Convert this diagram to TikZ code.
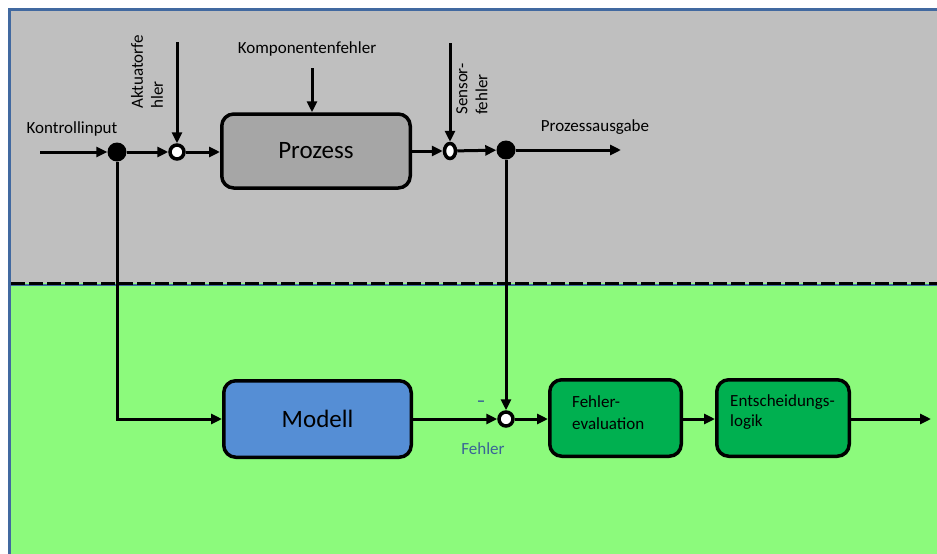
\documentclass[tikz,border=0pt]{standalone}
\usepackage{fontspec}
\setmainfont{Carlito}
\usetikzlibrary{arrows.meta,shapes.geometric}
\definecolor{frameblue}{RGB}{65,105,160}
\definecolor{bggray}{RGB}{191,191,191}
\definecolor{bggreen}{RGB}{140,250,124}
\definecolor{procgray}{RGB}{166,166,166}
\definecolor{modelblue}{RGB}{85,142,213}
\definecolor{evalgreen}{RGB}{0,176,80}
\definecolor{labelblue}{RGB}{58,100,150}
\begin{document}
\begin{tikzpicture}[x=1pt,y=-1pt,
  lbl/.style={font=\fontsize{17}{20}\selectfont, inner sep=0pt},
  bigtext/.style={font=\fontsize{25}{28}\selectfont},
  blockbox/.style={draw, line width=3.5pt, rounded corners=12pt, inner sep=0pt},
  sumpt/.style={circle, draw, fill=white, line width=3.5pt, inner sep=0pt, minimum size=14pt},
  sumell/.style={ellipse, draw, fill=white, line width=3.5pt, inner sep=0pt, minimum width=11pt, minimum height=15pt},
  branch/.style={circle, fill=black, inner sep=0pt, minimum size=19pt},
  arr/.style={line width=3pt, -{Triangle[length=11pt,width=10pt]}}
]
\useasboundingbox (0,0) rectangle (937,554);
\clip (0,0) rectangle (937,554);
% backgrounds: process layer (gray) and diagnosis layer (green)
\fill[white] (0,0) rectangle (937,554);
\fill[bggray] (9.5,9.5) rectangle (945,283);
\fill[bggreen] (9.5,283) rectangle (945,560);
\draw[frameblue, line width=3pt] (9.5,560) -- (9.5,9.5) -- (945,9.5);
\draw[frameblue, line width=1.5pt] (9.5,285) -- (945,285);
\draw[line width=3pt, dash pattern=on 14pt off 4pt] (11,283) -- (945,283);

% upper row
\coordinate (cin) at (40,152);
\node[branch] (d1) at (117,152) {};
\node[sumpt] (act) at (177,152) {};
\node[blockbox, fill=procgray, minimum width=188.5pt, minimum height=74pt, bigtext] (proc) at (316,151) {Prozess};
\node[sumell] (sens) at (450,151) {};
\node[branch] (d2) at (506,150) {};
\coordinate (pout) at (621,150);
\coordinate (acttop) at (177,42);
\coordinate (senstop) at (450,43);
\coordinate (comptop) at (312,68);

\node[lbl] (kin) at (72,129) {Kontrollinput};
\node[lbl, rotate=90, anchor=west, align=left] (actl) at (147,109) {Aktuatorfe\\hler};
\node[lbl, rotate=90, anchor=west, align=left] (sensl) at (472,115) {Sensor-\\fehler};
\node[lbl] (compl) at (307,49) {Komponentenfehler};
\node[lbl] (poutl) at (595,127) {Prozessausgabe};

\draw[arr] (cin) -- (d1);
\draw[arr] (d1) -- (act);
\draw[arr] (act) -- (proc.west |- act);
\draw[arr] (acttop) -- (act);
\draw[arr] (comptop) -- (comptop |- proc.north);
\draw[arr] (proc.east |- sens) -- (sens);
\draw[arr] (senstop) -- (sens);
\draw[arr] (sens) -- (d2);
\draw[arr] (d2) -- (pout);

% lower row
\node[blockbox, fill=modelblue, minimum width=187.5pt, minimum height=76.5pt, bigtext] (model) at (317.5,419) {Modell};
\node[sumpt] (fj) at (506,419) {};
\node[blockbox, fill=evalgreen, minimum width=131.5pt, minimum height=76.5pt] (feval) at (615.5,418) {};
\node[blockbox, fill=evalgreen, minimum width=132.5pt, minimum height=76.5pt] (logic) at (783,418) {};
\node[lbl, font=\fontsize{17}{22}\selectfont, anchor=west, align=left] (fevalt) at (572,413) {Fehler-\\evaluation};
\node[lbl, font=\fontsize{17}{20}\selectfont, anchor=west, align=left] (logict) at (730,412) {Entscheidungs-\\logik};
\coordinate (fout) at (931,419);

\node[lbl, text=labelblue, font=\bfseries\fontsize{17}{20}\selectfont] (minus) at (481,404) {–};
\node[lbl, text=labelblue] (ferr) at (483,449) {Fehler};

\draw[arr] (d1) |- (model.west);
\draw[arr] (d2) -- (fj);
\draw[arr] (model.east |- fj) -- (fj);
\draw[arr] (fj) -- (feval.west |- fj);
\draw[arr] (feval.east |- fj) -- (logic.west |- fj);
\draw[arr] (logic.east |- fj) -- (fout);
\end{tikzpicture}
\end{document}
